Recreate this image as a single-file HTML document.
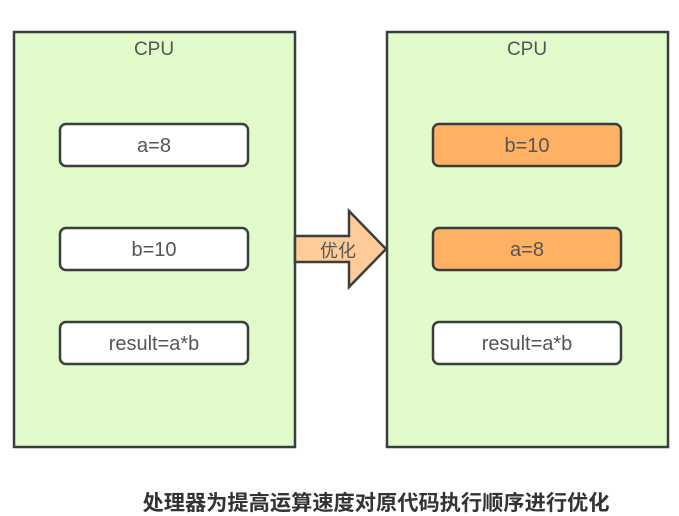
<!DOCTYPE html>
<html><head><meta charset="utf-8"><style>
html,body{margin:0;padding:0;background:#fff;}
svg{display:block;}
text{font-family:"Liberation Sans","Noto Sans CJK SC",sans-serif;}
</style></head><body>
<svg width="679" height="516" viewBox="0 0 679 516" xmlns="http://www.w3.org/2000/svg">
<rect x="14" y="32" width="281" height="415" fill="#e1fbcb" stroke="#3b3f3b" stroke-width="2.5"/>
<rect x="387" y="32" width="281" height="415" fill="#e1fbcb" stroke="#3b3f3b" stroke-width="2.5"/>
<text x="154" y="55" font-size="19" fill="#555" text-anchor="middle">CPU</text>
<text x="527" y="55" font-size="19" fill="#555" text-anchor="middle">CPU</text>
<g stroke="#3b3f3b" stroke-width="2.5">
<rect x="60" y="124" width="188" height="42" rx="6" fill="#fff"/>
<rect x="60" y="228" width="188" height="42" rx="6" fill="#fff"/>
<rect x="60" y="322" width="188" height="42" rx="6" fill="#fff"/>
<rect x="433" y="124" width="188" height="42" rx="6" fill="#ffb163"/>
<rect x="433" y="228" width="188" height="42" rx="6" fill="#ffb163"/>
<rect x="433" y="322" width="188" height="42" rx="6" fill="#fff"/>
</g>
<g font-size="20" fill="#555" text-anchor="middle">
<text x="154" y="152">a=8</text>
<text x="154" y="256">b=10</text>
<text x="154" y="350">result=a*b</text>
<text x="527" y="152">b=10</text>
<text x="527" y="256">a=8</text>
<text x="527" y="350">result=a*b</text>
</g>
<polygon points="295,236 349,236 349,211 386,249 349,287 349,262 295,262" fill="#ffcc99" stroke="#3b3f3b" stroke-width="2.5" stroke-linejoin="miter"/>
<text x="338" y="257" font-size="18" fill="#555" text-anchor="middle">优化</text>
<text x="376" y="510" font-size="21" font-weight="bold" fill="#333" text-anchor="middle" textLength="467" lengthAdjust="spacingAndGlyphs">处理器为提高运算速度对原代码执行顺序进行优化</text>
</svg>
</body></html>
